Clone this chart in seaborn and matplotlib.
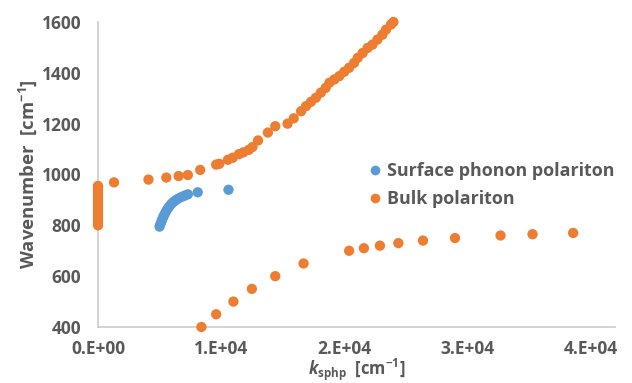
import numpy as np
import pandas as pd
import matplotlib
matplotlib.use("Agg")
import matplotlib.pyplot as plt
import seaborn as sns

# ---- data (k in cm^-1, wavenumber in cm^-1) ----
sphp_k = [5000, 5070, 5150, 5230, 5320, 5420, 5530, 5650, 5800, 5970,
          6150, 6350, 6550, 6800, 7050, 7300, 8100, 10600]
sphp_w = [795, 805, 815, 825, 835, 845, 855, 865, 875, 885,
          893, 900, 906, 912, 917, 922, 930, 940]

bulk_k0_w = [800, 810, 820, 830, 840, 850, 860, 870, 880, 890,
             900, 910, 920, 930, 940, 950, 955]

bulk_up_k = [1300, 4100, 5550, 6550, 7300, 8300, 9600, 9850, 10550, 10950,
             11450, 11800, 12250, 12550, 13000, 13800, 14400, 15400, 15900, 16500,
             16900, 17300, 17700, 18100, 18500, 18800, 19200, 19600, 20000, 20400,
             20800, 21100, 21500, 21900, 22300, 22700, 23100, 23400, 23800, 24000]
bulk_up_w = [969, 980, 988, 994, 998, 1018, 1039, 1042, 1058, 1066,
             1080, 1087, 1097, 1108, 1134, 1165, 1190, 1200, 1221, 1249,
             1269, 1286, 1302, 1322, 1341, 1361, 1374, 1387, 1404, 1420,
             1439, 1459, 1478, 1498, 1511, 1531, 1550, 1570, 1590, 1600]

bulk_lo_k = [8400, 9600, 11000, 12500, 14400, 16700, 20400, 21600, 22900,
             24400, 26400, 29000, 32700, 35300, 38600]
bulk_lo_w = [400, 450, 500, 550, 600, 650, 700, 710, 720,
             730, 740, 750, 760, 765, 770]

series_names = ["Surface phonon polariton", "Bulk polariton"]
y_ticks = [400, 600, 800, 1000, 1200, 1400, 1600]
x_ticks = [0, 10000, 20000, 30000, 40000]
x_tick_labels = ["0.E+00", "1.E+04", "2.E+04", "3.E+04", "4.E+04"]

bulk_k = [0] * len(bulk_k0_w) + bulk_up_k + bulk_lo_k
bulk_w = bulk_k0_w + bulk_up_w + bulk_lo_w

df = pd.DataFrame({
    "k": sphp_k + bulk_k,
    "w": sphp_w + bulk_w,
    "series": [series_names[0]] * len(sphp_k) + [series_names[1]] * len(bulk_k),
})

# ---- style ----
sns.set_style("white")
plt.rcParams["font.family"] = ["Open Sans", "DejaVu Sans"]
plt.rcParams["font.weight"] = "bold"
plt.rcParams["mathtext.fontset"] = "custom"
plt.rcParams["mathtext.rm"] = "Open Sans:bold"
plt.rcParams["mathtext.bf"] = "Open Sans:bold"
plt.rcParams["mathtext.it"] = "Open Sans:italic:bold"

gray = "#595959"
axis_gray = "#d0d0d0"
palette = {series_names[0]: "#5B9BD5", series_names[1]: "#ED7D31"}

fig = plt.figure(figsize=(6.32, 3.83), dpi=100)
ax = fig.add_axes([98 / 632, 56 / 383, 517 / 632, 305 / 383])

sns.scatterplot(data=df, x="k", y="w", hue="series", palette=palette,
                s=55, linewidth=0, alpha=1, ax=ax, legend=False, zorder=3)
for coll in ax.collections:
    coll.set_clip_on(False)

ax.set_xlim(0, 42000)
ax.set_ylim(400, 1600)
ax.set_xticks(x_ticks)
ax.set_xticklabels(x_tick_labels)
ax.set_yticks(y_ticks)

for s in ["top", "right"]:
    ax.spines[s].set_visible(False)
for s in ["left", "bottom"]:
    ax.spines[s].set_color(axis_gray)
    ax.spines[s].set_linewidth(1.3)

ax.tick_params(axis="both", direction="in", length=5, width=1.1, color=axis_gray,
               labelcolor=gray, labelsize=12.5)
ax.tick_params(axis="x", pad=9)
ax.tick_params(axis="y", pad=12)
for lab in ax.get_xticklabels() + ax.get_yticklabels():
    lab.set_fontweight("bold")

ax.set_xlabel(r"$\mathit{k}_{\mathrm{sphp}}$  [cm$^{\mathrm{-1}}$]", color=gray,
              fontsize=12, fontweight="bold", labelpad=-0.6)
ax.set_ylabel(r"Wavenumber  [cm$^{\mathrm{-1}}$]", color=gray,
              fontsize=13.3, fontweight="bold", labelpad=2)

from matplotlib.lines import Line2D
handles = [Line2D([], [], marker="o", linestyle="", markersize=7,
                  markerfacecolor=palette[n], markeredgewidth=0) for n in series_names]
leg = ax.legend(handles, series_names, loc="upper left",
                bbox_to_anchor=((348 - 98) / 517, (327 - 146) / 305),
                frameon=False, handletextpad=0.1, handlelength=1.2,
                labelspacing=0.55, prop={"family": "Open Sans", "weight": "bold", "size": 12.9})
for t in leg.get_texts():
    t.set_color(gray)

fig.savefig("out.png", dpi=100)
